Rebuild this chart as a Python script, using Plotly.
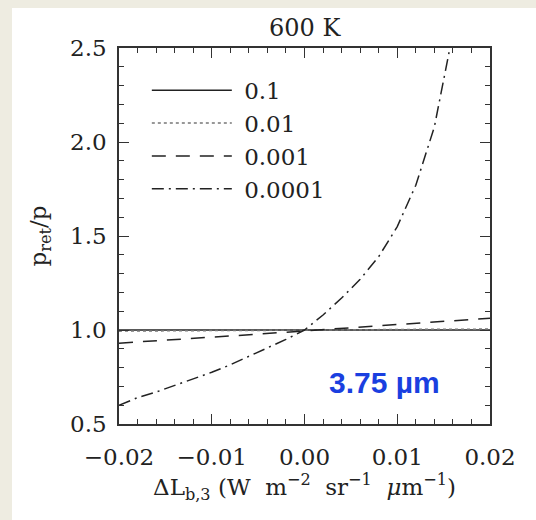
import plotly.graph_objects as go

# Brightness-temperature perturbation (W m^-2 sr^-1 um^-1)
dL = [-0.020, -0.018, -0.016, -0.014, -0.012, -0.010, -0.008, -0.006, -0.004,
      -0.002, 0.000, 0.002, 0.004, 0.006, 0.008, 0.010, 0.012, 0.014, 0.016,
      0.018, 0.020]

# Retrieved / true pressure ratio for each case
ratio_01 = [1.000] * 21
ratio_001 = [0.994, 0.995, 0.995, 0.996, 0.996, 0.997, 0.997, 0.998, 0.998,
             0.999, 1.000, 1.001, 1.001, 1.002, 1.002, 1.003, 1.003, 1.004,
             1.004, 1.005, 1.005]
ratio_0001 = [0.930, 0.937, 0.944, 0.950, 0.956, 0.962, 0.968, 0.975, 0.981,
              0.988, 0.996, 1.003, 1.010, 1.017, 1.024, 1.030, 1.037, 1.044,
              1.050, 1.056, 1.062]
dL_dd = dL[:19]
ratio_00001 = [0.60, 0.64, 0.67, 0.705, 0.74, 0.775, 0.815, 0.86, 0.905,
               0.95, 1.00, 1.08, 1.17, 1.27, 1.39, 1.55, 1.77, 2.08, 2.58]

labels = ["0.1", "0.01", "0.001", "0.0001"]

SERIF = "DejaVu Serif"
INK = "#222222"
NB = "\u00a0"

fig = go.Figure()
fig.add_trace(go.Scatter(x=dL, y=ratio_01, mode="lines", name=NB + labels[0],
                         line=dict(color=INK, width=1.5, dash="solid")))
fig.add_trace(go.Scatter(x=dL, y=ratio_001, mode="lines", name=NB + labels[1],
                         line=dict(color="#777777", width=1.5, dash="dot")))
fig.add_trace(go.Scatter(x=dL, y=ratio_0001, mode="lines", name=NB + labels[2],
                         line=dict(color=INK, width=1.5, dash="14px,10px")))
fig.add_trace(go.Scatter(x=dL_dd, y=ratio_00001, mode="lines", name=NB + labels[3],
                         line=dict(color=INK, width=1.5, dash="12px,5px,2px,5px")))

L, R, T, B = 119, 46, 48, 96
W, H = 536, 520
pw, ph = W - L - R, H - T - B

axis_common = dict(
    showgrid=False, zeroline=False, showline=True, linecolor="#333333",
    linewidth=1.5, mirror="allticks", ticks="inside", ticklen=10,
    tickwidth=1.2, tickcolor="#333333",
    tickfont=dict(family=SERIF, size=23, color=INK),
)

xtitle = (f"\u0394L<sub>b,3</sub>{NB}(W{NB}{NB}m<sup>\u22122</sup>{NB}{NB}"
          f"sr<sup>\u22121</sup>{NB}{NB}<i>\u03bc</i>m<sup>\u22121</sup>)")

fig.update_layout(
    width=W, height=H,
    margin=dict(l=L, r=R, t=T, b=B),
    paper_bgcolor="#EEECE1",
    plot_bgcolor="white",
    showlegend=True,
    legend=dict(x=0.075, y=0.945, xanchor="left", yanchor="top",
                bgcolor="rgba(0,0,0,0)", itemwidth=80, tracegroupgap=0,
                font=dict(family=SERIF, size=23, color=INK)),
    xaxis=dict(range=[-0.02, 0.02], tickvals=[-0.02, -0.01, 0.0, 0.01, 0.02],
               ticktext=["\u22120.02", "\u22120.01", "0.00", "0.01", "0.02"],
               minor=dict(dtick=0.002, ticks="inside", ticklen=5,
                          tickcolor="#333333", tickwidth=1),
               ticklabelstandoff=12,
               title=dict(text=xtitle,
                          font=dict(family=SERIF, size=23, color=INK),
                          standoff=6),
               **axis_common),
    yaxis=dict(range=[0.5, 2.5], tickvals=[0.5, 1.0, 1.5, 2.0, 2.5],
               ticktext=["0.5", "1.0", "1.5", "2.0", "2.5"],
               minor=dict(dtick=0.1, ticks="inside", ticklen=5,
                          tickcolor="#333333", tickwidth=1),
               ticklabelstandoff=6,
               title=dict(text="p<sub>ret</sub>/p",
                          font=dict(family=SERIF, size=23, color=INK),
                          standoff=17),
               **axis_common),
    shapes=[dict(type="rect", xref="paper", yref="paper", layer="below",
                 x0=(12 - L) / pw, x1=(W - L) / pw,
                 y0=-B / ph, y1=1 + (T - 8) / ph,
                 fillcolor="white", line=dict(width=0))],
    annotations=[
        dict(text="600 K", xref="paper", yref="paper", x=0.5, y=1 + (T - 28) / ph,
             xanchor="center", yanchor="middle", showarrow=False,
             font=dict(family=SERIF, size=24, color=INK)),
        dict(text="<b>3.75 \u00b5m</b>", xref="x", yref="y", x=0.0086, y=0.72,
             xanchor="center", yanchor="middle", showarrow=False,
             font=dict(family="Liberation Sans", size=30, color="#1A3FE0")),
    ],
)

fig.write_html("out.html")
